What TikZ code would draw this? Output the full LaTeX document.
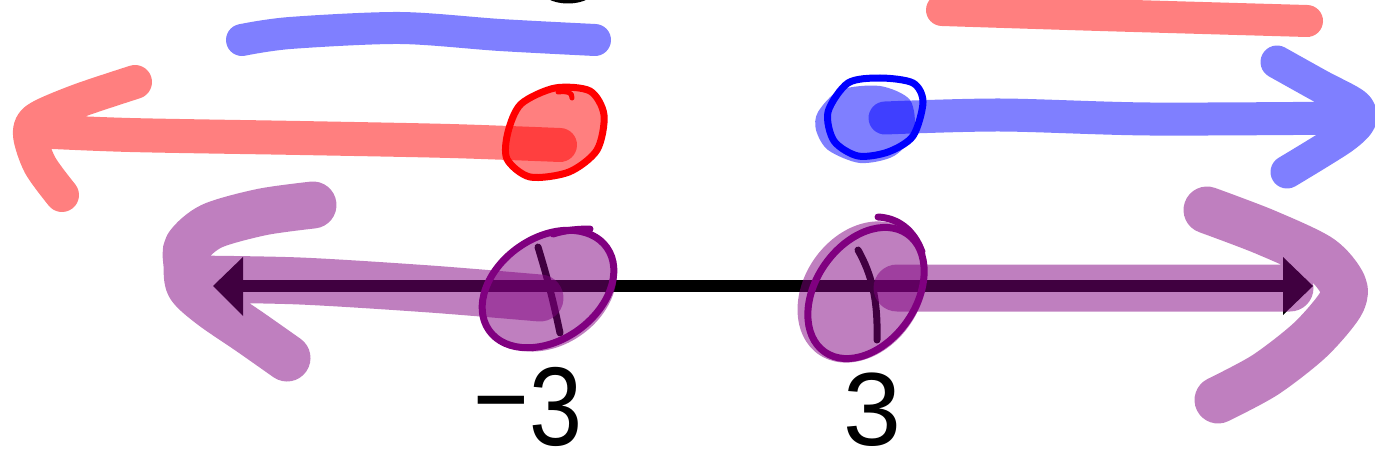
\documentclass[tikz,border=0pt]{standalone}
\usepackage{fontspec}
\setmainfont{Liberation Sans}
\definecolor{penred}{HTML}{FF0000}
\definecolor{penblue}{HTML}{0000FF}
\definecolor{penpurple}{HTML}{800080}
\begin{document}
\begin{tikzpicture}[x=1pt,y=-1pt,
  pen/.style={line cap=round,line join=round},
  marker/.style={pen,draw opacity=0.5},
  blob/.style={fill opacity=0.5},
  outline/.style={pen,line width=7pt},
  lbl/.style={inner sep=0pt,outer sep=0pt,text=black}]
\useasboundingbox (0,0) rectangle (1375,468);
% number line (black, under the purple marker)
\draw[line width=12pt] (243,286) -- (1283,286);
\fill (213,286) -- (243,257) -- (243,316) -- cycle;
\fill (1313,286) -- (1283,257) -- (1283,315) -- cycle;
% tick marks
\draw[pen,line width=7pt] (538,247) .. controls (548,280) and (553,300) .. (560,333);
\draw[pen,line width=7pt] (858,250) .. controls (872,275) and (878,300) .. (877,340);
% purple marker arrows
\draw[marker,penpurple,line width=47pt]
  plot[smooth] coordinates {(313,205) (262,212) (212,226) (188,246) (187,265) (190,286) (212,306) (250,332) (287,358)}
  plot[smooth] coordinates {(190,279) (300,281) (430,289) (540,298)};
\draw[marker,penpurple,line width=47pt]
  plot[smooth] coordinates {(1207,210) (1265,232) (1320,258) (1343,285) (1340,305) (1310,340) (1265,375) (1218,400)}
  (897,288) -- (1290,288);
% purple dots
\fill[blob,penpurple] (550,291) ellipse [x radius=72, y radius=54, rotate=35];
\fill[blob,penpurple] (862,292) ellipse [x radius=76, y radius=58, rotate=55];
\draw[outline,penpurple] (548,289) ellipse [x radius=72, y radius=51, rotate=35];
\draw[outline,penpurple] (553,234) .. controls (565,230) and (580,229) .. (590,229);
\draw[outline,penpurple] (866,293) ellipse [x radius=72, y radius=50, rotate=55];
\draw[outline,penpurple] (878,217) .. controls (898,218) and (914,230) .. (922,252);
% red arrow and dot
\draw[marker,penred,line width=34pt]
  plot[smooth] coordinates {(135,82) (78,101) (37,119) (30,135) (40,165) (62,195)}
  plot[smooth] coordinates {(32,131) (130,135) (300,138) (450,141) (560,145)};
\fill[blob,penred] plot[smooth cycle] coordinates {(521,104) (555,88) (590,91) (604,115) (597,150) (569,172) (530,177) (507,159) (508,132)};
\draw[outline,penred] plot[smooth cycle] coordinates {(521,104) (555,88) (590,91) (604,115) (597,150) (569,172) (530,177) (507,159) (508,132)};
\draw[pen,penred,line width=5pt] (558,92) .. controls (566,91) and (573,92) .. (572,98);
% blue arrow and dot
\draw[marker,penblue,line width=33pt]
  plot[smooth] coordinates {(1277,62) (1320,86) (1355,105) (1360,120) (1342,138) (1287,172)}
  plot[smooth] coordinates {(885,118) (1000,115) (1150,119) (1355,118)};
\fill[blob,penblue] plot[smooth cycle] coordinates {(818,112) (840,90) (880,86) (910,100) (914,132) (894,156) (860,163) (828,150) (816,130)};
\draw[outline,penblue] plot[smooth cycle] coordinates {(848,83) (880,78) (913,83) (923,102) (913,136) (888,152) (858,156) (834,141) (828,112)};
% top strokes
\draw[marker,penblue,line width=32pt] plot[smooth] coordinates {(242,40) (290,33) (400,28) (500,35) (595,40)};
\draw[marker,penred,line width=32pt] plot[smooth] coordinates {(942,10) (1100,15) (1307,21)};
\draw[pen,line width=4pt] (549,-3) .. controls (558,3) and (578,3) .. (587,-3);
% labels
\node[lbl,anchor=base east,xscale=0.85,font=\fontsize{112}{112}\selectfont] (negthree) at (582,445) {\raisebox{8pt}{−}3};
\node[lbl,anchor=base,font=\fontsize{104}{104}\selectfont] (posthree) at (872,445) {3};
\end{tikzpicture}
\end{document}
